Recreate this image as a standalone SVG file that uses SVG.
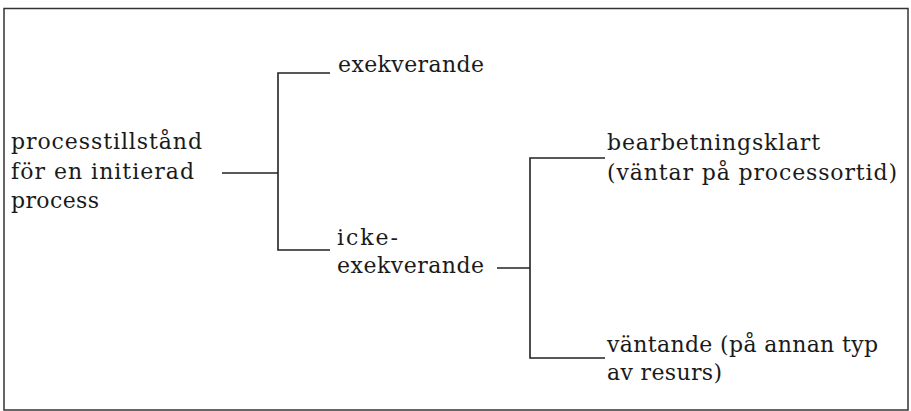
<svg xmlns="http://www.w3.org/2000/svg" width="911" height="411" viewBox="0 0 911 411">
  <style>
    .frame { fill: none; stroke: #333; stroke-width: 1.5; }
    .link { fill: none; stroke: #222; stroke-width: 1.6; }
    .label { font-family: "DejaVu Serif", "Liberation Serif", serif; font-size: 22px; fill: #1a1a1a; }
  </style>
  <rect width="911" height="411" fill="#ffffff"/>
  <!-- outer frame -->
  <rect class="frame" x="4" y="8.5" width="904" height="401.5"/>

  <!-- tree connectors -->
  <g id="connectors">
    <path class="link" d="M222,173 H278"/>
    <path class="link" d="M330,73 H278 V250 H330"/>
    <path class="link" d="M497,268 H530"/>
    <path class="link" d="M605,158 H530 V358 H605"/>
  </g>

  <g id="root">
    <text class="label" x="11" y="149" textLength="191" lengthAdjust="spacing">processtillstånd</text>
    <text class="label" x="11" y="179" textLength="183" lengthAdjust="spacing">för en initierad</text>
    <text class="label" x="11" y="208" textLength="88" lengthAdjust="spacing">process</text>
  </g>

  <g id="exekverande">
    <text class="label" x="338" y="72" textLength="146" lengthAdjust="spacing">exekverande</text>
  </g>

  <g id="icke-exekverande">
    <text class="label" x="337" y="245" textLength="61" lengthAdjust="spacing">icke-</text>
    <text class="label" x="337" y="273" textLength="147" lengthAdjust="spacing">exekverande</text>
  </g>

  <g id="bearbetningsklart">
    <text class="label" x="607" y="150" textLength="213" lengthAdjust="spacing">bearbetningsklart</text>
    <text class="label" x="607" y="180" textLength="290" lengthAdjust="spacing">(väntar på processortid)</text>
  </g>

  <g id="vantande">
    <text class="label" x="607" y="352" textLength="271" lengthAdjust="spacing">väntande (på annan typ</text>
    <text class="label" x="607" y="380" textLength="115" lengthAdjust="spacing">av resurs)</text>
  </g>
</svg>
